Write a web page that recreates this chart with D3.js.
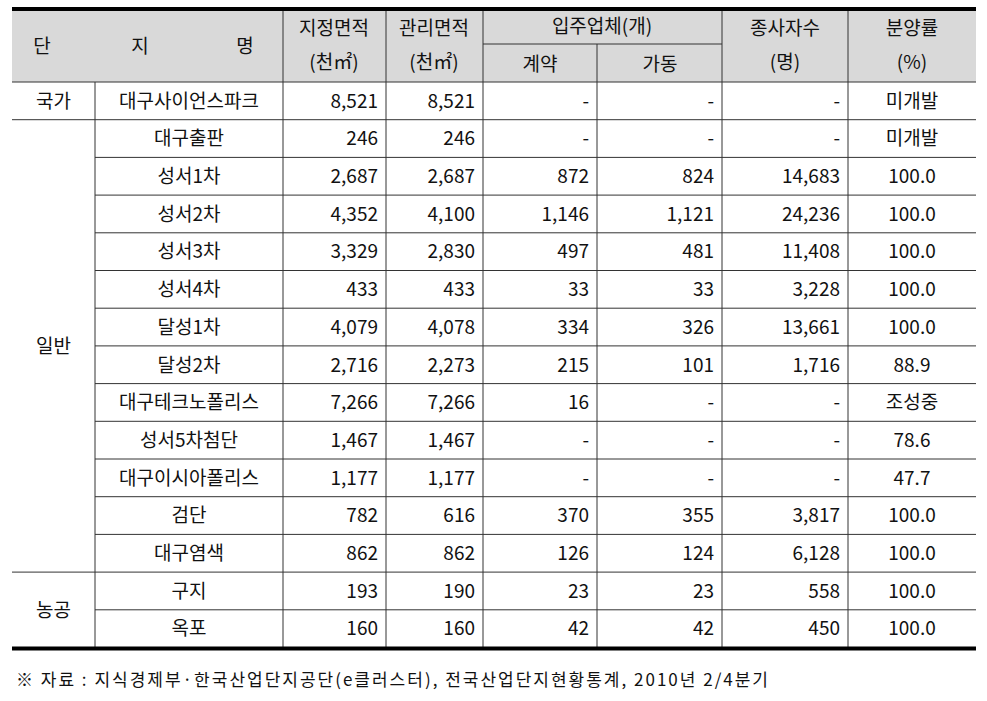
<!DOCTYPE html>
<meta charset="utf-8">
<style>
body { margin: 0; background: #fff; }
text { font-family: "Noto Sans CJK KR", sans-serif; font-size: 19px; fill: #111; }
</style>
<svg width="987" height="701"></svg>
<script src="https://d3js.org/d3.v7.min.js"></script>
<script>
var groups = [["국가", 1], ["일반", 12], ["농공", 2]];
var names = ["대구사이언스파크", "대구출판", "성서1차", "성서2차", "성서3차", "성서4차", "달성1차", "달성2차",
  "대구테크노폴리스", "성서5차첨단", "대구이시아폴리스", "검단", "대구염색", "구지", "옥포"];
var designated = ["8,521", "246", "2,687", "4,352", "3,329", "433", "4,079", "2,716", "7,266", "1,467", "1,177", "782", "862", "193", "160"];
var managed = ["8,521", "246", "2,687", "4,100", "2,830", "433", "4,078", "2,273", "7,266", "1,467", "1,177", "616", "862", "190", "160"];
var contract = ["-", "-", "872", "1,146", "497", "33", "334", "215", "16", "-", "-", "370", "126", "23", "42"];
var operating = ["-", "-", "824", "1,121", "481", "33", "326", "101", "-", "-", "-", "355", "124", "23", "42"];
var workers = ["-", "-", "14,683", "24,236", "11,408", "3,228", "13,661", "1,716", "-", "-", "-", "3,817", "6,128", "558", "450"];
var saleRate = ["미개발", "미개발", "100.0", "100.0", "100.0", "100.0", "100.0", "88.9", "조성중", "78.6", "47.7", "100.0", "100.0", "100.0", "100.0"];
var note = "※  자료 : 지식경제부·한국산업단지공단(e클러스터), 전국산업단지현황통계, 2010년 2/4분기";

var svg = d3.select("svg");
var cols = [12, 95, 283, 386, 483, 597, 722, 848, 976];
var headTop = 10, headBot = 82, rowH = 37.7;
var y = d3.scaleLinear().domain([0, names.length]).range([headBot, headBot + rowH * names.length]);
var bottom = y(names.length);

svg.append("rect").attr("x", cols[0]).attr("y", headTop).attr("width", cols[8] - cols[0])
  .attr("height", headBot - headTop).attr("fill", "#d9d9d9");

function line(x1, y1, x2, y2, w, c) {
  svg.append("line").attr("x1", x1).attr("y1", y1).attr("x2", x2).attr("y2", y2)
    .attr("stroke", c || "#333").attr("stroke-width", w || 1);
}
function txt(x, yy, s, anchor) {
  svg.append("text").attr("x", x).attr("y", yy).attr("text-anchor", anchor || "middle")
    .attr("dy", "0.36em").text(s);
}

// header
line(cols[4], 44, cols[6], 44);
[2, 3, 4, 6, 7].forEach(function(i) { line(cols[i], headTop, cols[i], bottom); });
line(cols[5], 44, cols[5], bottom);
line(cols[1], headBot, cols[1], bottom);
txt(42, 46, "단"); txt(140, 46, "지"); txt(245, 46, "명");
txt(334, 28, "지정면적"); txt(334, 62, "(천㎡)");
txt(434, 28, "관리면적"); txt(434, 62, "(천㎡)");
txt(602, 26, "입주업체(개)");
txt(540, 64, "계약"); txt(660, 64, "가동");
txt(785, 28, "종사자수"); txt(785, 62, "(명)");
txt(912, 28, "분양률"); txt(912, 62, "(%)");

// rows
var start = 0;
groups.forEach(function(g, gi) {
  txt((cols[0] + cols[1]) / 2, (y(start) + y(start + g[1])) / 2, g[0]);
  for (var i = start; i < start + g[1]; i++) {
    var cy = (y(i) + y(i + 1)) / 2;
    txt((cols[1] + cols[2]) / 2, cy, names[i]);
    txt(cols[3] - 8, cy, designated[i], "end");
    txt(cols[4] - 8, cy, managed[i], "end");
    txt(cols[5] - 8, cy, contract[i], "end");
    txt(cols[6] - 8, cy, operating[i], "end");
    txt(cols[7] - 8, cy, workers[i], "end");
    txt(912, cy, saleRate[i]);
    if (i > start) line(cols[1], y(i), cols[8], y(i));
  }
  start += g[1];
  if (gi < groups.length - 1) line(cols[0], y(start), cols[8], y(start));
});
line(cols[0], headBot, cols[8], headBot);
line(cols[0], headTop - 1, cols[8], headTop - 1, 4, "#000");
line(cols[0], bottom + 1, cols[8], bottom + 1, 4, "#000");

svg.append("text").attr("x", 16).attr("y", 686).style("font-size", "17px")
  .attr("textLength", 752).attr("lengthAdjust", "spacing").text(note);
</script>
